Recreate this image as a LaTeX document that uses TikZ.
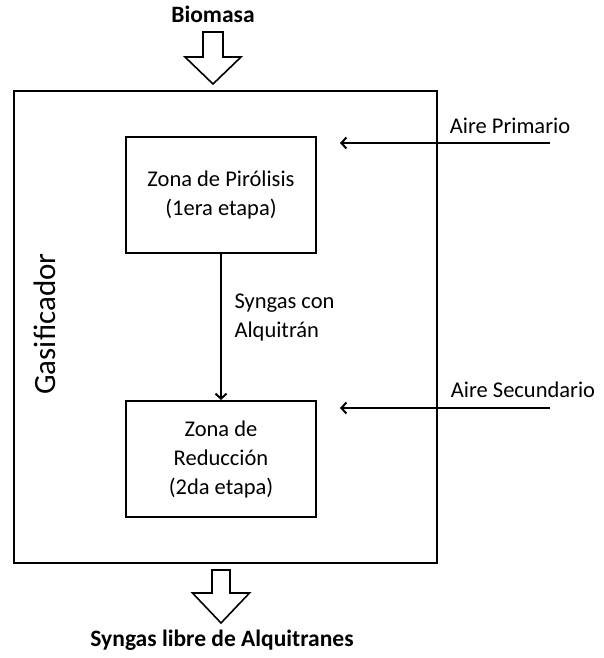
\documentclass[tikz,border=0pt]{standalone}
\usepackage{fontspec}
\setmainfont{Carlito}
\usetikzlibrary{arrows.meta}
\begin{document}
\begin{tikzpicture}[x=1pt, y=-1pt, every node/.style={font=\fontsize{22.5}{29}\selectfont}]
\useasboundingbox (0,0) rectangle (603,658);

\tikzset{zonebox/.style={draw, line width=2pt, minimum width=190pt, minimum height=116pt, align=center, inner sep=0pt},
         flowline/.style={line width=2pt, -{Straight Barb[length=5pt,width=11pt]}},
         blockarrow/.style={draw, line width=1.6pt, fill=white, line join=miter}}

% Gasifier
\node[draw, line width=2pt, minimum width=423pt, minimum height=472pt, inner sep=0pt] (gasif) at (225.5,327) {};
\node[rotate=90, font=\fontsize{31}{36}\selectfont] (gastxt) at (45,324) {Gasificador};

% Zones
\node[zonebox] (piro) at (221,195) {Zona de Pirólisis\\(1era etapa)};
\node[zonebox] (reduc) at (221,459) {Zona de\\Reducción\\(2da etapa)};
\draw[flowline] (piro.south) -- (reduc.north);
\node[anchor=west, align=left] (syntxt) at (231,318) {Syngas con\\Alquitrán};

% Air inlets
\coordinate (aireP) at (550,143);
\coordinate (aireP end) at (340,143);
\coordinate (aireS) at (550,408);
\coordinate (aireS end) at (340,408);
\draw[flowline] (aireP) -- (aireP end);
\draw[flowline] (aireS) -- (aireS end);
\node (airePtxt) at (510,126) {Aire Primario};
\node (aireStxt) at (523,390) {Aire Secundario};

% Block arrows
\draw[blockarrow] (203,32) -- (223,32) -- (223,57) -- (241,57) -- (213,84) -- (185,57) -- (203,57) -- cycle;
\draw[blockarrow] (212,570) -- (230,570) -- (230,593) -- (249.5,593) -- (221,623) -- (192.5,593) -- (212,593) -- cycle;

% Labels
\node[font=\fontsize{23.5}{28}\selectfont\bfseries] (biotxt) at (213,14) {Biomasa};
\node[font=\fontsize{23.5}{28}\selectfont\bfseries] (syngastxt) at (222,640) {Syngas libre de Alquitranes};
\end{tikzpicture}
\end{document}
